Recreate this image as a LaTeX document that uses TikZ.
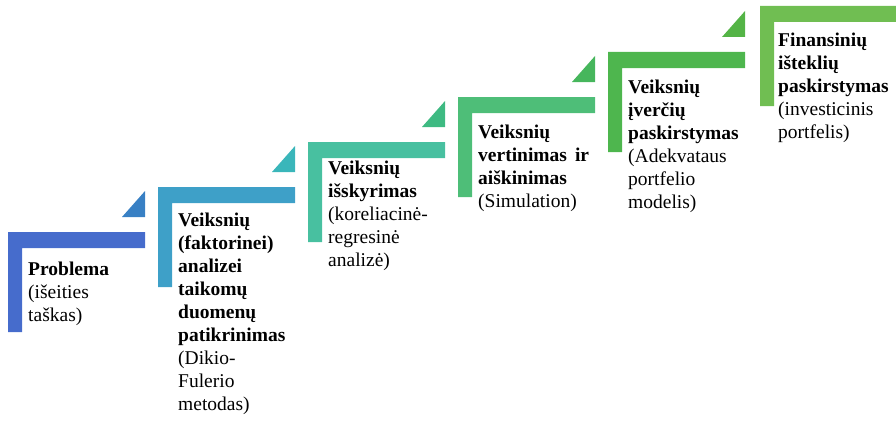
\documentclass[tikz,border=0pt]{standalone}
\usepackage{fontspec}
\setmainfont{Liberation Serif}
\usepackage{tikz}

\definecolor{stepA}{RGB}{70,108,204}
\definecolor{triA}{RGB}{56,128,196}
\definecolor{stepB}{RGB}{62,160,200}
\definecolor{triB}{RGB}{58,182,186}
\definecolor{stepC}{RGB}{72,192,160}
\definecolor{triC}{RGB}{62,186,130}
\definecolor{stepD}{RGB}{78,190,120}
\definecolor{triD}{RGB}{70,182,92}
\definecolor{stepE}{RGB}{78,182,78}
\definecolor{triE}{RGB}{84,180,70}
\definecolor{stepF}{RGB}{112,190,82}

\begin{document}
\begin{tikzpicture}[x=1pt,y=-1pt,
    stepbar/.style = {draw=none},
    steptext/.style = {anchor=north west, inner sep=0pt, text width=140pt, align=left,
                       font=\fontsize{19.5}{23}\selectfont}]
        \useasboundingbox (0,0) rectangle (896,428);
        % steps, lower left to upper right
        \fill[stepbar, stepA] (8,232) -- ++(137,0) -- ++(0,16) -- ++(-123,0) -- ++(0,84) -- ++(-14,0) -- cycle;
        \fill[stepbar, triA] (122,217) -- (145,217) -- (145,191) -- cycle;
        \fill[stepbar, stepB] (158,187) -- ++(137,0) -- ++(0,16) -- ++(-123,0) -- ++(0,84) -- ++(-14,0) -- cycle;
        \fill[stepbar, triB] (272,172) -- (295,172) -- (295,146) -- cycle;
        \fill[stepbar, stepC] (308,142) -- ++(137,0) -- ++(0,16) -- ++(-123,0) -- ++(0,84) -- ++(-14,0) -- cycle;
        \fill[stepbar, triC] (422,127) -- (445,127) -- (445,101) -- cycle;
        \fill[stepbar, stepD] (458,97) -- ++(137,0) -- ++(0,16) -- ++(-123,0) -- ++(0,84) -- ++(-14,0) -- cycle;
        \fill[stepbar, triD] (572,82) -- (595,82) -- (595,56) -- cycle;
        \fill[stepbar, stepE] (608,52) -- ++(137,0) -- ++(0,16) -- ++(-123,0) -- ++(0,84) -- ++(-14,0) -- cycle;
        \fill[stepbar, triE] (722,37) -- (745,37) -- (745,11) -- cycle;
        \fill[stepbar, stepF] (760,6) -- ++(137,0) -- ++(0,16) -- ++(-123,0) -- ++(0,84) -- ++(-14,0) -- cycle;
        % texts
        \node[steptext] (problema) at (28,262) {\textbf{Problema}\\(išeities\\taškas)};
        \node[steptext] (tikrinimas) at (178,213) {\textbf{Veiksnių}\\\textbf{(faktorinei)}\\\textbf{analizei}\\\textbf{taikomų}\\\textbf{duomenų}\\\textbf{patikrinimas}\\(Dikio-\\Fulerio\\metodas)};
        \node[steptext] (isskyrimas) at (328,161) {\textbf{Veiksnių}\\\textbf{išskyrimas}\\(koreliacinė-\\regresinė\\analizė)};
        \node[steptext] (vertinimas) at (478,125) {\textbf{Veiksnių}\\\textbf{vertinimas\hspace{8pt}ir}\\\textbf{aiškinimas}\\(Simulation)};
        \node[steptext] (iverciai) at (628,80) {\textbf{Veiksnių}\\\textbf{įverčių}\\\textbf{paskirstymas}\\(Adekvataus\\portfelio\\modelis)};
        \node[steptext] (finansai) at (778,33) {\textbf{Finansinių}\\\textbf{išteklių}\\\textbf{paskirstymas}\\(investicinis\\portfelis)};
\end{tikzpicture}
\end{document}
